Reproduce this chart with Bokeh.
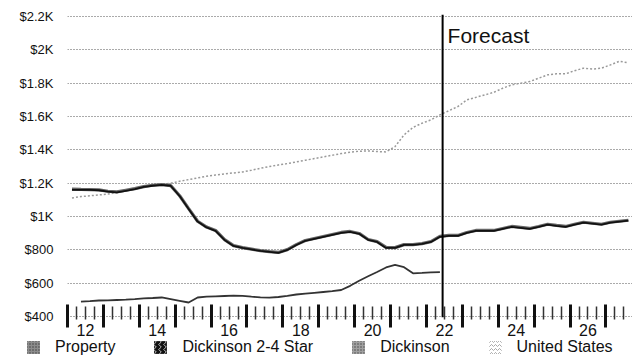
from bokeh.plotting import figure
from bokeh.layouts import column
from bokeh.models import (Range1d, LinearAxis, FixedTicker, Grid,
                          Span, Label, Legend, LegendItem)
from bokeh.embed import file_html
from bokeh.resources import INLINE

# ---------------- data (quarterly) ----------------
first_quarter = 2012.125
quarter_step = 0.25

star24 = [1160, 1160, 1160, 1158, 1150, 1145, 1155, 1165, 1178, 1185, 1190, 1185,
          1123, 1046, 970, 935, 915, 860, 824, 812, 803, 794, 788, 782,
          800, 830, 855, 867, 879, 891, 903, 909, 897, 861, 848, 812,
          812, 830, 830, 836, 848, 879, 885, 885, 903, 915, 915, 915,
          927, 939, 933, 927, 939, 952, 945, 939, 952, 964, 958, 952,
          964, 970, 976]
dickinson = [1165, 1163, 1162, 1160, 1152, 1148, 1158, 1168, 1180, 1188, 1192, 1186,
             1125, 1048, 972, 937, 917, 862, 826, 814, 805, 796, 790, 785,
             802, 832, 857, 869, 881, 893, 905, 911, 899, 863, 850, 815,
             814, 832, 832, 838, 850, 881, 887, 887, 905, 917, 917, 917,
             929, 941, 935, 929, 941, 954, 947, 941, 954, 966, 960, 954,
             966, 972, 978]
property_start = 2012.375
property_rent = [490, 493, 497, 498, 500, 502, 505, 510, 512, 515, 505,
                 495, 485, 515, 520, 522, 524, 526, 525, 520, 516, 514, 518,
                 525, 533, 538, 543, 548, 553, 560, 585, 615, 642, 668, 695,
                 710, 697, 660, 662, 665, 667]
united_states = [1112, 1120, 1125, 1130, 1135, 1145, 1158, 1170, 1180, 1188, 1195, 1200,
                 1212, 1222, 1232, 1242, 1250, 1256, 1262, 1268, 1278, 1290, 1300, 1310,
                 1318, 1328, 1338, 1348, 1358, 1368, 1378, 1386, 1392, 1394, 1390, 1388,
                 1420, 1490, 1535, 1560, 1580, 1610, 1635, 1660, 1700, 1715, 1730, 1745,
                 1770, 1790, 1800, 1810, 1830, 1850, 1856, 1856, 1875, 1890, 1885, 1890,
                 1910, 1932, 1922]

y_ticks = [400, 600, 800, 1000, 1200, 1400, 1600, 1800, 2000, 2200]
y_labels = ["$400", "$600", "$800", "$1K", "$1.2K", "$1.4K", "$1.6K", "$1.8K", "$2K", "$2.2K"]
tick_years = list(range(2012, 2028))
x_label_years = [2012, 2014, 2016, 2018, 2020, 2022, 2024, 2026]
x_labels = ["12", "14", "16", "18", "20", "22", "24", "26"]
forecast_start = 2022.45

series_names = ["Property", "Dickinson 2-4 Star", "Dickinson", "United States"]

FONT = "Liberation Sans"
X0, X1 = 2012.0, 2027.74
HALF_YEAR = 0.5


def times(start, n):
    return [start + quarter_step * k for k in range(n)]


p = figure(width=632, height=338,
           x_range=Range1d(X0, X1), y_range=Range1d(395, 2212),
           x_axis_type=None, y_axis_type=None,
           output_backend="svg", toolbar_location=None, frame_align=False,
           min_border_left=67, min_border_right=0, min_border_top=14, min_border_bottom=0,
           outline_line_color=None, background_fill_color="white")

# horizontal dotted grid
p.add_layout(Grid(dimension=1, ticker=FixedTicker(ticks=y_ticks),
                  grid_line_color="#555555", grid_line_dash="1 2", grid_line_width=1))

# y axis
yaxis = LinearAxis(ticker=FixedTicker(ticks=y_ticks, minor_ticks=[]),
                   major_label_overrides=dict(zip(y_ticks, y_labels)),
                   axis_line_color=None, major_tick_line_color=None, minor_tick_line_color=None,
                   major_tick_in=0, major_tick_out=0, minor_tick_in=0, minor_tick_out=0,
                   major_label_standoff=14, major_label_text_font=FONT,
                   major_label_text_font_size="13px", major_label_text_color="#111111")
p.add_layout(yaxis, "left")

# x axis 1: thin quarter ticks only (no labels)
quarter_ticks = [y + q * quarter_step for y in tick_years for q in (1, 2, 3)]
xaxis_q = LinearAxis(ticker=FixedTicker(ticks=[], minor_ticks=quarter_ticks),
                     axis_line_color=None, major_tick_line_color=None,
                     major_tick_in=0, major_tick_out=0,
                     minor_tick_in=11, minor_tick_out=2, minor_tick_line_width=1.5,
                     minor_tick_line_color="#333333", major_label_standoff=0)
p.add_layout(xaxis_q, "below")

# x axis 2: thick year ticks + labels centred in the year (range shifted half a year)
p.extra_x_ranges = {"labels": Range1d(X0 - HALF_YEAR, X1 - HALF_YEAR)}
xaxis_y = LinearAxis(x_range_name="labels",
                     ticker=FixedTicker(ticks=x_label_years,
                                        minor_ticks=[y - HALF_YEAR for y in tick_years]),
                     major_label_overrides=dict(zip(x_label_years, x_labels)),
                     axis_line_color=None, major_tick_line_color=None,
                     major_tick_in=0, major_tick_out=0,
                     minor_tick_in=15, minor_tick_out=8, minor_tick_line_width=3,
                     minor_tick_line_color="#111111",
                     major_label_standoff=-4, major_label_text_font=FONT,
                     major_label_text_font_size="16px", major_label_text_color="#111111")
p.add_layout(xaxis_y, "below")

# series lines
p.line(times(first_quarter, len(united_states)), united_states,
       line_color="#9a9a9a", line_width=1.5, line_dash="2 2")
p.line(times(first_quarter, len(dickinson)), dickinson,
       line_color="#666666", line_width=3.2)
p.line(times(first_quarter, len(star24)), star24,
       line_color="#111111", line_width=1.8)
p.line(times(property_start, len(property_rent)), property_rent,
       line_color="#333333", line_width=1.8)

# forecast marker
p.add_layout(Span(location=forecast_start, dimension="height",
                  line_color="#000000", line_width=2))
p.add_layout(Label(x=forecast_start, y=2200, x_offset=5, y_offset=-7, text="Forecast",
                   text_baseline="top", text_font=FONT, text_font_size="21px",
                   text_color="#111111"))

# ---------------- legend strip ----------------
leg = figure(width=632, height=20, x_range=Range1d(0, 1), y_range=Range1d(0, 1),
             x_axis_type=None, y_axis_type=None, frame_align=False,
             output_backend="svg", toolbar_location=None,
             min_border_left=0, min_border_right=0, min_border_top=0, min_border_bottom=0,
             outline_line_color=None)
off = dict(left=[5], right=[6], top=[5], bottom=[4])  # outside the strip's range: keys only
sw_prop = leg.quad(**off, fill_color="#8c8c8c", line_color=None,
                   hatch_pattern="dot", hatch_color="#3a3a3a", hatch_scale=3, hatch_weight=1)
sw_star = leg.quad(**off, fill_color="#111111", line_color=None,
                   hatch_pattern="vertical_wave", hatch_color="#bbbbbb", hatch_scale=5,
                   hatch_weight=1)
sw_dick = leg.quad(**off, fill_color="#a0a0a0", line_color=None,
                   hatch_pattern="dot", hatch_color="#444444", hatch_scale=3, hatch_weight=1)
sw_us = leg.quad(**off, fill_color="#ffffff", line_color=None,
                 hatch_pattern="horizontal_wave", hatch_color="#aaaaaa", hatch_scale=4,
                 hatch_weight=1)

legend = Legend(items=[LegendItem(label=series_names[0], renderers=[sw_prop]),
                       LegendItem(label=series_names[1], renderers=[sw_star]),
                       LegendItem(label=series_names[2], renderers=[sw_dick]),
                       LegendItem(label=series_names[3], renderers=[sw_us])],
                orientation="horizontal", location=(25, 2),
                glyph_width=16, glyph_height=16, label_standoff=14, spacing=37,
                padding=0, margin=0, border_line_color=None, background_fill_alpha=0,
                label_text_font=FONT, label_text_font_size="16px",
                label_text_color="#111111")
leg.add_layout(legend, "center")

open("out.html", "w").write(file_html(column(p, leg, spacing=0), INLINE))
